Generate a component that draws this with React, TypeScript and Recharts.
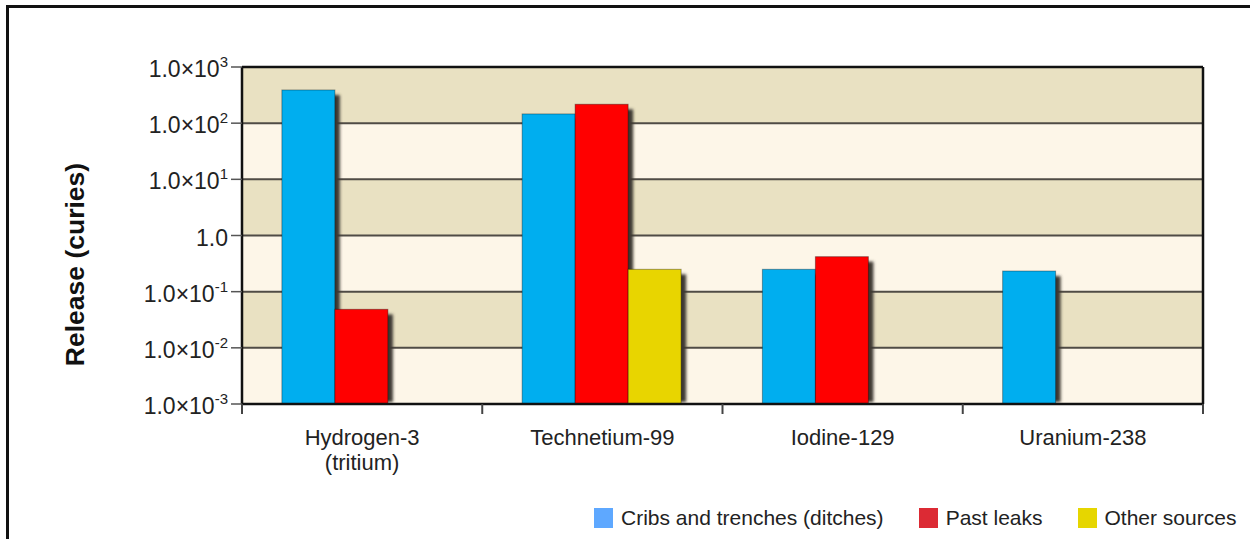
import { BarChart, Bar, XAxis, YAxis, CartesianGrid, Legend, ReferenceLine } from 'recharts';

const ISOTOPES = ['Hydrogen-3\n(tritium)', 'Technetium-99', 'Iodine-129', 'Uranium-238'];
const CRIBS = [390, 146, 0.25, 0.233];
const PAST_LEAKS = [0.0485, 217, 0.42, null];
const OTHER_SOURCES = [null, 0.25, null, null];
const Y_TICKS = [0.001, 0.01, 0.1, 1, 10, 100, 1000];

const SERIES = [
    { key: 'cribs', label: 'Cribs and trenches (ditches)', fill: '#00aeef', legend: '#5ea8ff' },
    { key: 'leaks', label: 'Past leaks', fill: '#ff0000', legend: '#dc2a34' },
    { key: 'other', label: 'Other sources', fill: '#e8d500', legend: '#e6d600' },
];

const FONT = '"Liberation Sans", Arial, sans-serif';
const TAN = '#e9e1c2';
const CREAM = '#fdf6e8';

const data = ISOTOPES.map((name, i) => ({
    name,
    cribs: CRIBS[i],
    leaks: PAST_LEAKS[i],
    other: OTHER_SOURCES[i],
}));

// bar with a soft drop shadow to the lower right
const ShadowBar = (props: any) => {
    const { x, y, width, height, fill } = props;
    if (!(height > 0)) return null;
    return (
        <g>
            <rect x={x + 5} y={y + 5} width={width} height={Math.max(height - 7, 0)} fill="#3c3833" filter="url(#barShadow)" />
            <rect x={x} y={y} width={width} height={height} fill={fill} stroke="rgba(0,0,0,0.35)" strokeWidth={1} />
        </g>
    );
};

const PowerTick = (props: any) => {
    const { x, y, payload } = props;
    const exp = Math.round(Math.log10(payload.value));
    return (
        <text x={x} y={y} dy={10} textAnchor="end" fontSize={23} fill="#222" fontFamily={FONT}>
            {exp === 0 ? '1.0' : <>1.0×10<tspan fontSize={15} dy={-10}>{exp}</tspan></>}
        </text>
    );
};

const IsotopeTick = (props: any) => {
    const { x, y, payload, index, visibleTicksCount, width } = props;
    const half = payload.offset || width / visibleTicksCount / 2;
    const lines = String(payload.value).split('\n');
    return (
        <g>
            <line x1={x - half} x2={x - half} y1={y} y2={y + 10} stroke="#444" strokeWidth={2} />
            {index === visibleTicksCount - 1 && (
                <line x1={x + half} x2={x + half} y1={y} y2={y + 10} stroke="#444" strokeWidth={2} />
            )}
            {lines.map((ln, i) => (
                <text key={i} x={x} y={y + 41 + i * 25} textAnchor="middle" fontSize={22} fill="#222" fontFamily={FONT}>
                    {ln}
                </text>
            ))}
        </g>
    );
};

const AxisTitle = (props: any) => {
    const vb = props.viewBox || { x: 0, y: 67, width: 242, height: 337 };
    const cx = vb.x + 75;
    const cy = vb.y + vb.height / 2 + 29;
    return (
        <text x={cx} y={cy} transform={`rotate(-90 ${cx} ${cy})`} textAnchor="middle" dominantBaseline="central"
            fontSize={26.5} fontWeight="bold" fill="#111" fontFamily={FONT}>
            Release (curies)
        </text>
    );
};

const renderLegend = () => (
    <div style={{ display: 'flex', alignItems: 'center', fontFamily: FONT, fontSize: 21, color: '#222', whiteSpace: 'nowrap' }}>
        {SERIES.map(s => (
            <div key={s.key} style={{ display: 'flex', alignItems: 'center', marginRight: 35 }}>
                <span style={{ display: 'inline-block', width: 19, height: 20, background: s.legend, marginRight: 8 }} />
                <span>{s.label}</span>
            </div>
        ))}
    </div>
);

export default function App() {
    return (
        <div style={{ position: 'fixed', left: 0, top: 0, width: 1250, height: 539, overflow: 'hidden', background: '#fff' }}>
            <svg width={0} height={0} style={{ position: 'absolute' }}>
                <defs>
                    <filter id="barShadow" x="-20%" y="-5%" width="140%" height="110%">
                        <feGaussianBlur stdDeviation={1.6} />
                    </filter>
                </defs>
            </svg>
            <div style={{ position: 'absolute', left: 6, top: 5, width: 1300, height: 600, border: '3px solid #111' }} />
            <div style={{ position: 'absolute', left: 0, top: 0 }}>
                <BarChart width={1250} height={539} data={data} margin={{ top: 67, right: 46, bottom: 35, left: 0 }}
                    barCategoryGap="16.6%" barGap={0}>
                    <CartesianGrid vertical={false} stroke="#4f4b45" strokeWidth={2} horizontalFill={[TAN, CREAM]} fillOpacity={1} />
                    <XAxis dataKey="name" height={100} tickSize={0} tickMargin={0} tickLine={false} interval={0}
                        axisLine={{ stroke: '#111', strokeWidth: 2.5 }} tick={<IsotopeTick />} />
                    <YAxis scale="log" domain={[0.001, 1000]} ticks={Y_TICKS} allowDataOverflow width={242}
                        tickSize={11} tickMargin={3} tickLine={{ stroke: '#555', strokeWidth: 1.5 }}
                        axisLine={{ stroke: '#111', strokeWidth: 2.5 }} tick={<PowerTick />} label={AxisTitle} />
                    <YAxis yAxisId="r" orientation="right" width={1} tick={false} tickLine={false}
                        axisLine={{ stroke: '#111', strokeWidth: 2.5 }} />
                    <ReferenceLine y={1000} stroke="#111" strokeWidth={2.5} />
                    {SERIES.map(s => (
                        <Bar key={s.key} dataKey={s.key} name={s.label} fill={s.fill} shape={<ShadowBar />} isAnimationActive={false} />
                    ))}
                    <Legend layout="horizontal" verticalAlign="middle" align="center" content={renderLegend}
                        wrapperStyle={{ left: 594, top: 506, width: 'auto', height: 'auto' }} />
                </BarChart>
            </div>
        </div>
    );
}
